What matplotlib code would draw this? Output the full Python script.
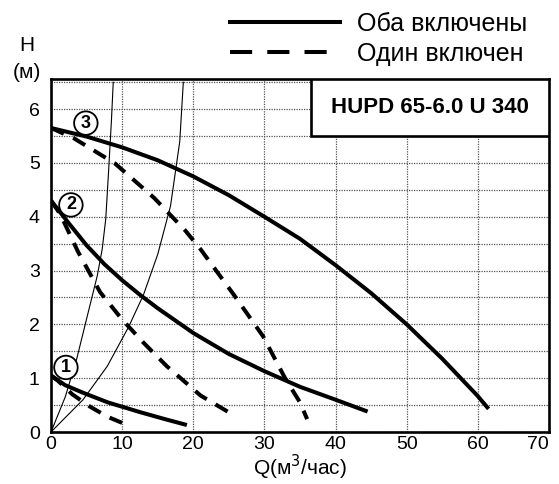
import matplotlib
matplotlib.use("Agg")
import matplotlib.pyplot as plt
from matplotlib.lines import Line2D
from matplotlib.patches import Rectangle

plt.rcParams['font.family'] = ['Liberation Sans', 'DejaVu Sans']

# pump curves, both pumps on (solid)
both_1_q = [0, 2, 4.5, 8, 12.5, 16, 19.1]
both_1_h = [1.05, 0.87, 0.73, 0.55, 0.37, 0.24, 0.13]
both_2_q = [0, 2.5, 5, 7.5, 10, 12.5, 15, 17.5, 20, 25, 30, 35, 40, 44.5]
both_2_h = [4.3, 3.88, 3.47, 3.12, 2.82, 2.55, 2.3, 2.07, 1.84, 1.45, 1.13, 0.84, 0.6, 0.38]
both_3_q = [0, 5, 10, 15, 20, 25, 30, 35, 40, 45, 50, 55, 59.9, 61.5]
both_3_h = [5.65, 5.49, 5.29, 5.05, 4.75, 4.4, 4.0, 3.59, 3.1, 2.58, 2.0, 1.36, 0.68, 0.43]

# one pump on (dashed)
one_1_q = [0, 1, 3, 5.5, 8, 10]
one_1_h = [1.05, 0.95, 0.7, 0.47, 0.28, 0.17]
one_2_q = [0, 1.3, 3.8, 6.9, 10, 13, 16.3, 19.1, 21, 25.2]
one_2_h = [4.3, 4.05, 3.35, 2.6, 2.09, 1.66, 1.22, 0.9, 0.68, 0.35]
one_3_q = [0, 3.2, 9, 14.5, 18.9, 21, 25.7, 29.8, 32.9, 35, 36]
one_3_h = [5.65, 5.46, 4.99, 4.35, 3.74, 3.4, 2.55, 1.78, 1.0, 0.55, 0.24]

# system curves (thin)
sys_a_q = [0, 2, 3.6, 5.0, 6.5, 7.2, 7.7, 8.15, 8.5, 8.75]
sys_a_h = [0, 0.65, 1.35, 2.1, 2.9, 3.4, 3.96, 4.97, 5.8, 6.5]
sys_b_q = [0, 4.5, 7.9, 10.9, 13, 15, 16.8, 18.1, 18.6]
sys_b_h = [0, 0.6, 1.22, 1.95, 2.55, 3.3, 4.2, 5.4, 6.5]

# circled curve numbers
label_q = [2.1, 2.8, 4.9]
label_h = [1.2, 4.22, 5.74]
label_txt = ['1', '2', '3']

x_ticks = [0, 10, 20, 30, 40, 50, 60, 70]
y_ticks = [0, 1, 2, 3, 4, 5, 6]

fig = plt.figure(figsize=(5.59, 4.84), dpi=100)
ax = fig.add_axes([0.0912, 0.1074, 0.891, 0.7294])

thick = 2.9
dash = (3.5, 2.5)
for q, h in [(both_1_q, both_1_h), (both_2_q, both_2_h), (both_3_q, both_3_h)]:
    ax.plot(q, h, color='black', lw=thick, solid_capstyle='butt', solid_joinstyle='round', zorder=3)
for q, h in [(one_1_q, one_1_h), (one_2_q, one_2_h), (one_3_q, one_3_h)]:
    ax.plot(q, h, color='black', lw=thick, dashes=dash, dash_capstyle='butt', zorder=3)
for q, h in [(sys_a_q, sys_a_h), (sys_b_q, sys_b_h)]:
    ax.plot(q, h, color='black', lw=0.8, zorder=3)

for q, h, t in zip(label_q, label_h, label_txt):
    ax.text(q, h, t, ha='center', va='center', fontsize=13, fontweight='bold', zorder=5,
            bbox=dict(boxstyle='circle,pad=0.18', fc='white', ec='black', lw=1.3))

ax.set_xlim(0, 70)
ax.set_ylim(0, 6.56)
ax.set_xticks(x_ticks)
ax.set_yticks(y_ticks)
ax.set_yticks([i * 0.5 for i in range(14)], minor=True)
ax.grid(True, which='both', axis='y', color='#555555', lw=0.9, ls=(0, (1, 1)))
ax.grid(True, which='major', axis='x', color='#555555', lw=0.9, ls=(0, (1, 1)))
ax.tick_params(which='both', length=0, labelsize=14)
ax.tick_params(axis='x', pad=3)
ax.tick_params(axis='y', pad=8)
for s in ax.spines.values():
    s.set_linewidth(1.9)
ax.get_xticklabels()[-1].set_horizontalalignment('right')
ax.get_xticklabels()[-1].set_x(70)

# model name box
ax.add_patch(Rectangle((36.6, 5.5), 33.4, 1.06, fc='white', ec='black', lw=1.9, zorder=4))
ax.text(53.3, 6.03, 'HUPD 65-6.0 U 340', ha='center', va='center', fontsize=16,
        fontweight='bold', zorder=5)

ax.set_xlabel('Q(м$^3$/час)', fontsize=15, labelpad=0)
fig.text(0.048, 0.907, 'H', ha='center', va='center', fontsize=15)
fig.text(0.048, 0.851, '(м)', ha='center', va='center', fontsize=15)

handles = [Line2D([], [], color='black', lw=2.9),
           Line2D([], [], color='black', lw=2.9, dashes=(5.5, 3.75))]
fig.legend(handles, ['Оба включены', 'Один включен'], loc='upper right',
           bbox_to_anchor=(0.975, 1.012), frameon=False, fontsize=18,
           handlelength=4.4, handletextpad=0.68, labelspacing=0.25, borderpad=0.2)

fig.savefig('out.png', dpi=100)
